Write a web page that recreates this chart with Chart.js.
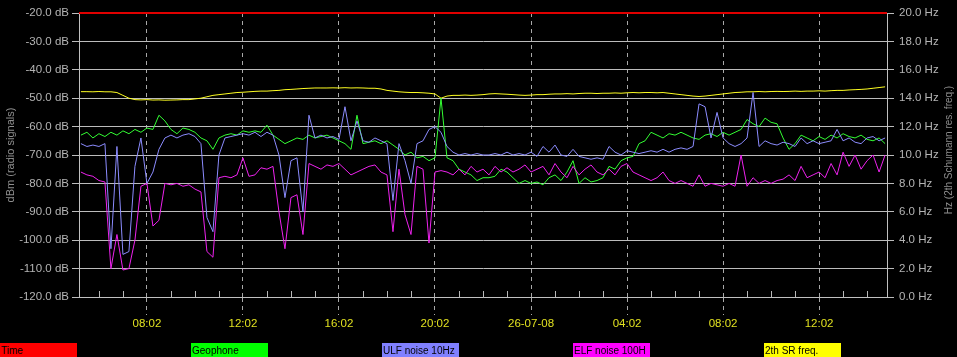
<!DOCTYPE html>
<html><head><meta charset="utf-8">
<script src="https://cdn.jsdelivr.net/npm/chart.js@4.4.1/dist/chart.umd.min.js"></script>
<style>
html,body{margin:0;padding:0;background:#000;overflow:hidden}
#wrap{position:relative;width:957px;height:357px;background:#000}
canvas{display:block}
#legend{position:absolute;left:0;top:343px;width:957px;height:14px}
.lg{position:absolute;top:0;width:77px;height:14px;font:10px "Liberation Sans",Arial,sans-serif;color:#000;line-height:16px;padding-left:1px;overflow:hidden;white-space:nowrap;box-sizing:border-box}
</style></head>
<body><div id="wrap"><canvas id="c" width="957" height="357"></canvas><div id="legend"></div></div>
<script>
// ---- data ----
const sampleStartHour = 5.25;   // hours after 25-07-08 00:02
const sampleStepHours = 0.25;
const axisStartHour = 5.17, axisEndHour = 38.83;

const xTickHours  = [8, 12, 16, 20, 24, 28, 32, 36];
const xTickLabels = ['08:02','12:02','16:02','20:02','26-07-08','04:02','08:02','12:02'];

const seriesLabels = ['Time','Geophone','ULF noise 10Hz','ELF noise 100H','2th SR freq.'];
const seriesColors = ['#ff0000','#00ff00','#8080ff','#ff00ff','#ffff00'];
const lineColors   = ['#e00000','#33ff33','#8c8cff','#ee22ee','#ffff22'];

const timeDb = [-20, -20];

const geophoneDb = [-63,-62,-64,-62.5,-63.5,-62,-63,-61.5,-62.5,-61,-62,-60.5,-61,-56,-58,-61,-62.5,-60.5,-61,-62,-64,-65,-68,-64,-63,-62.5,-63,-61.5,-62,-61.5,-62,-59.5,-63,-64.5,
-66,-65,-64,-64.5,-63,-64,-63.5,-63,-64,-65,-66,-68,-56,-66,-65.5,-65,-66,-65,-66.5,-68,-70,-69,-71,-70.5,-72,-71,-50,-71,-72,-75,-76,-77,-79,-78,
-78,-77.5,-75,-76,-78,-80,-79,-80,-79.5,-80.5,-78,-77,-79,-76,-72,-80,-78,-79.5,-79,-78,-74,-75,-72,-71,-70.5,-66,-65,-62,-63,-64,-62.5,-63,-62,
-63,-64,-64.5,-63,-62.5,-63.5,-62,-63,-62,-61,-57.5,-59,-60,-57,-58.5,-59,-64,-68,-66,-63,-64,-65,-63.5,-64.5,-63,-64,-62.5,-63.5,-64,-63,-64.5,-65,-64,-66];

const ulfDb = [-66,-67,-66.5,-67,-66,-103,-67,-105,-104,-74,-64,-80,-76,-68,-64,-63,-64,-63,-62.5,-63.5,-66,-92,-97,-70,-64,-63.5,-63,-62.5,-63,-62,-63.5,-62,-63,-70,
-85,-72,-71,-90,-56,-64,-63,-64,-63.5,-64.5,-53,-65,-58,-65,-65.5,-64,-65,-66,-86,-66,-72,-80,-66,-65,-61,-60,-62,-67,-69,-70,-69.5,-70,-69.5,-70,
-70,-69.5,-70,-69,-70,-69.5,-70,-69,-70.5,-67,-69,-66.5,-70,-70.5,-68,-70.5,-71,-71.5,-71,-71.5,-67,-69,-70,-68.5,-69,-69.5,-69,-68.5,-69,-68,-69,-68,-67.5,
-68,-67,-52,-53,-64,-55,-64,-66,-67,-66,-64,-48,-67,-65,-66,-66.5,-65.5,-66,-67,-64,-66,-65,-66,-65.5,-65,-61,-65,-64,-65.5,-66,-64,-63.5,-65,-64];

const elfDb = [-76,-77,-77.5,-79,-79.5,-110,-98,-110.5,-110,-100,-81,-80,-95,-93,-80,-80.5,-80,-81,-80.5,-82,-83,-104,-106,-78,-77.5,-78,-77,-71,-77.5,-77,-74.5,-75,-74,-90,
-103,-85,-84,-98,-73,-74,-75,-73.5,-74,-73,-75,-77,-76,-75,-74,-73.5,-76,-77,-97,-75,-91,-98,-74,-75,-101,-76,-75.5,-76,-77,-75,-77,-74,-76,-75,
-77,-74,-76,-74.5,-76,-75,-73.5,-76,-75,-74,-77,-73,-76,-78,-74,-77,-75,-73.5,-76,-77,-75,-77,-74,-73,-76,-77,-78,-79,-78,-76,-79,-80,-79,
-80,-81,-77,-81,-80,-80.5,-81,-80,-81,-70,-81,-78,-80,-79,-80,-79,-78.5,-77,-79,-74,-78,-77,-76,-78,-73,-77,-69,-74,-70,-75,-72,-70,-76,-70];

const srHz = [14.46,14.46,14.45,14.47,14.45,14.45,14.4,14.2,14.0,13.9,13.88,13.9,13.87,13.88,13.86,13.87,13.88,13.9,13.9,13.95,14.0,14.1,14.2,14.25,14.3,14.35,14.4,14.42,14.45,14.48,14.5,14.5,14.53,14.55,
14.6,14.62,14.65,14.68,14.7,14.72,14.72,14.72,14.73,14.72,14.74,14.72,14.73,14.72,14.7,14.7,14.65,14.55,14.5,14.45,14.42,14.4,14.4,14.38,14.35,14.3,14.0,14.15,14.2,14.2,14.22,14.2,14.22,14.25,
14.3,14.32,14.3,14.28,14.25,14.22,14.2,14.22,14.25,14.25,14.28,14.3,14.3,14.32,14.3,14.33,14.35,14.35,14.33,14.35,14.35,14.37,14.35,14.38,14.4,14.38,14.4,14.4,14.38,14.4,14.35,14.3,14.25,
14.2,14.15,14.12,14.15,14.2,14.25,14.3,14.35,14.4,14.42,14.45,14.45,14.47,14.45,14.47,14.48,14.47,14.48,14.5,14.48,14.5,14.5,14.52,14.5,14.53,14.55,14.55,14.58,14.6,14.62,14.65,14.7,14.75,14.8];

const leftTitle = 'dBm (radio signals)';
const rightTitle = 'Hz (2th Schumann res. freq.)';

// ---- build ----
const toPts = arr => arr.map((v, i) => ({x: sampleStartHour + i * sampleStepHours, y: v}));
const FONT = '"Liberation Sans", Arial, sans-serif';

const extras = {
  id: 'extras',
  afterDraw(chart) {
    const {ctx, chartArea, scales} = chart;
    ctx.save();
    ctx.strokeStyle = '#b8b8b8'; ctx.lineWidth = 1;
    ctx.beginPath();
    for (let h = Math.ceil(axisStartHour); h <= Math.floor(axisEndHour); h++) {
      if (xTickHours.includes(h)) continue;
      const x = Math.round(scales.x.getPixelForValue(h)) + 0.5;
      ctx.moveTo(x, chartArea.bottom - 6); ctx.lineTo(x, chartArea.bottom);
    }
    ctx.stroke();
    ctx.fillStyle = '#8e8e8e';
    ctx.textAlign = 'center'; ctx.textBaseline = 'middle';
    ctx.font = '11px ' + FONT;
    ctx.save(); ctx.translate(11, 155); ctx.rotate(-Math.PI / 2); ctx.fillText(leftTitle, 0, 0); ctx.restore();
    ctx.font = '10px ' + FONT;
    ctx.save(); ctx.translate(949, 150); ctx.rotate(-Math.PI / 2); ctx.fillText(rightTitle, 0, 0); ctx.restore();
    ctx.restore();
  }
};

const lineDs = (label, data, color, axis, order) => ({
  label, data, borderColor: color, backgroundColor: color, yAxisID: axis,
  borderWidth: 1, pointRadius: 0, tension: 0, fill: false, order
});

const timeDs = lineDs(seriesLabels[0], [{x: axisStartHour, y: timeDb[0]}, {x: axisEndHour, y: timeDb[1]}], lineColors[0], 'y', 0);
timeDs.borderWidth = 2;
timeDs.clip = false;

new Chart(document.getElementById('c'), {
  type: 'line',
  data: {
    datasets: [
      timeDs,
      lineDs(seriesLabels[3], toPts(elfDb), lineColors[3], 'y', 1),
      lineDs(seriesLabels[2], toPts(ulfDb), lineColors[2], 'y', 2),
      lineDs(seriesLabels[1], toPts(geophoneDb), lineColors[1], 'y', 3),
      lineDs(seriesLabels[4], toPts(srHz), lineColors[4], 'yHz', 4)
    ]
  },
  options: {
    responsive: false, animation: false, devicePixelRatio: 1,
    layout: {padding: {top: 13, left: 0, right: 0, bottom: 0}},
    plugins: {legend: {display: false}, tooltip: {enabled: false}},
    scales: {
      x: {
        type: 'linear', position: 'bottom', min: axisStartHour, max: axisEndHour,
        afterBuildTicks: s => { s.ticks = xTickHours.map(v => ({value: v})); },
        afterFit: s => { s.height = 60; },
        ticks: {
          callback: v => xTickLabels[xTickHours.indexOf(v)],
          color: '#e0e020', font: {family: FONT, size: 11.5}, maxRotation: 0, autoSkip: false, padding: 2
        },
        grid: {color: '#a8a8a8', lineWidth: 1, tickLength: 18, tickBorderDash: [4, 4], tickColor: '#a8a8a8'},
        border: {display: true, color: '#c0c0c0', dash: [4, 4]}
      },
      y: {
        type: 'linear', position: 'left', min: -120, max: -20,
        afterFit: s => { s.width = 79; },
        ticks: {stepSize: 10, callback: v => v.toFixed(1) + ' dB', color: '#b4b4b4', font: {family: FONT, size: 11.5}, padding: 3},
        grid: {color: '#bcbcbc', lineWidth: 1, tickLength: 7, tickColor: '#bcbcbc'},
        border: {display: true, color: '#c0c0c0'}
      },
      yHz: {
        type: 'linear', position: 'right', min: 0, max: 20,
        afterFit: s => { s.width = 70; },
        ticks: {stepSize: 2, callback: v => v.toFixed(1) + ' Hz', color: '#b4b4b4', font: {family: FONT, size: 11.5}, padding: 5},
        grid: {drawOnChartArea: false, tickLength: 7, color: '#bcbcbc', tickColor: '#bcbcbc'},
        border: {display: true, color: '#c0c0c0'}
      }
    }
  },
  plugins: [extras]
});

// HTML legend
const lg = document.getElementById('legend');
seriesLabels.forEach((t, i) => {
  const d = document.createElement('div');
  d.className = 'lg';
  d.style.left = (i * 191) + 'px';
  d.style.background = seriesColors[i];
  d.textContent = t;
  lg.appendChild(d);
});
</script>
</body></html>
